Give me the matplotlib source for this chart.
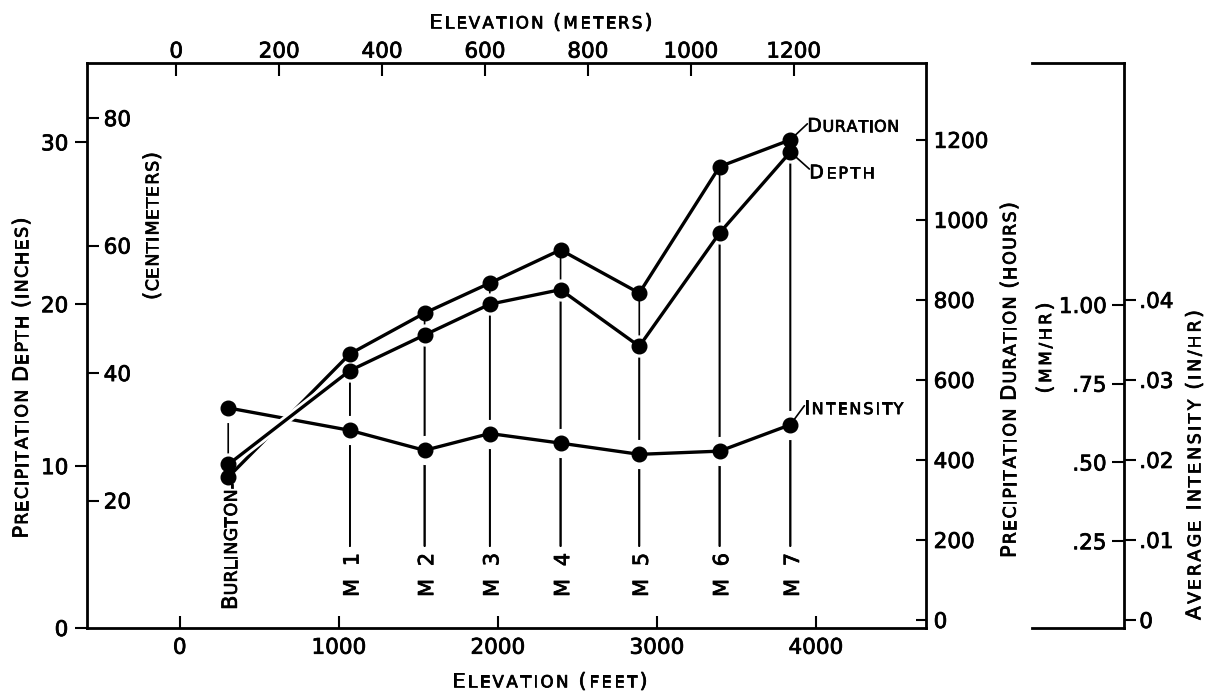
import matplotlib
matplotlib.use('Agg')
import matplotlib.pyplot as plt
from matplotlib.font_manager import FontProperties
from matplotlib.transforms import offset_copy, blended_transform_factory, Affine2D
import matplotlib.patheffects as pe

# ---------------- data ----------------
stations = ['Burlington-', 'M  1', 'M  2', 'M  3', 'M  4', 'M  5', 'M  6', 'M  7']
elevation_ft = [305, 1070, 1540, 1950, 2395, 2890, 3395, 3840]
depth_in = [10.1, 15.9, 18.1, 20.0, 20.9, 17.4, 24.4, 29.4]
duration_hr = [357, 665, 767, 842, 925, 817, 1133, 1200]
intensity_inhr = [0.0265, 0.0237, 0.0212, 0.0233, 0.0221, 0.0207, 0.0211, 0.0244]

feet_ticks = [0, 1000, 2000, 3000, 4000]
meter_ticks = [0, 200, 400, 600, 800, 1000, 1200]
inch_ticks = [0, 10, 20, 30]
cm_ticks = [20, 40, 60, 80]
hour_ticks = [0, 200, 400, 600, 800, 1000, 1200]
inhr_ticks = [0, 0.01, 0.02, 0.03, 0.04]
inhr_labels = ['0', '.01', '.02', '.03', '.04']
mmhr_ticks = [0.25, 0.50, 0.75, 1.00]
mmhr_labels = ['.25', '.50', '.75', '1.00']

# ---------------- figure setup ----------------
W, H, DPI = 1206, 691, 100
FONT = 'DejaVu Sans'
plt.rcParams['font.family'] = FONT
TICK_FS = 15.5
SPINE_LW = 2.0
TICK_LW = 1.5
HEAVY = [pe.withStroke(linewidth=0.55, foreground='k')]

fig = plt.figure(figsize=(W / DPI, H / DPI), dpi=DPI)
fig.patch.set_facecolor('white')


def fx(px):
    return px / W


def fy(py):
    return 1 - py / H


L, R, T, B = 87, 926, 63, 628
AXH = fy(T) - fy(B)

# main axes: elevation (ft) vs depth (in)
ax = fig.add_axes([fx(L), fy(B), fx(R) - fx(L), AXH])
ax.set_xlim(-583, 4693)
ax.set_ylim(0, 34.9)
ax.patch.set_alpha(0)
for s in ax.spines.values():
    s.set_linewidth(SPINE_LW)
ax.set_xticks(feet_ticks)
ax.set_yticks(inch_ticks)
ax.tick_params(axis='x', direction='in', length=8.5, width=TICK_LW, pad=7,
               labelsize=TICK_FS, top=False)
ax.tick_params(axis='y', direction='out', length=8.5, width=TICK_LW, pad=5,
               labelsize=TICK_FS, right=False)

# top: meters
ax_m = ax.twiny()
ax_m.set_xlim(-173.4, 1457.3)
ax_m.set_xticks(meter_ticks)
ax_m.tick_params(axis='x', direction='in', length=9, width=TICK_LW, pad=1,
                 labelsize=TICK_FS)
for s in ax_m.spines.values():
    s.set_visible(False)

# right: duration hours
ax_dur = ax.twinx()
ax_dur.set_ylim(-20, 1392)
ax_dur.set_yticks(hour_ticks)
ax_dur.tick_params(axis='y', direction='in', length=7.5, width=TICK_LW, pad=5.5,
                   labelsize=TICK_FS)
for s in ax_dur.spines.values():
    s.set_visible(False)

# inner-left: centimeters
ax_cm = fig.add_axes([fx(L) - 0.0005, fy(B), 0.0005, AXH])
ax_cm.set_ylim(0, 34.9 * 2.54)
ax_cm.patch.set_visible(False)
for s in ax_cm.spines.values():
    s.set_visible(False)
ax_cm.xaxis.set_visible(False)
ax_cm.yaxis.tick_right()
ax_cm.set_yticks(cm_ticks)
ax_cm.tick_params(axis='y', direction='out', length=8.5, width=TICK_LW, pad=3.5,
                  labelsize=TICK_FS)

# separate intensity scale
IL, IR = 1032, 1124
ax_int = fig.add_axes([fx(IL), fy(B), fx(IR) - fx(IL), AXH])
ax_int.set_ylim(-0.001, 0.0696)
ax_int.patch.set_visible(False)
ax_int.spines['left'].set_visible(False)
for k in ('top', 'bottom', 'right'):
    ax_int.spines[k].set_linewidth(SPINE_LW)
ax_int.set_xticks([])
ax_int.yaxis.tick_right()
ax_int.set_yticks(inhr_ticks)
ax_int.set_yticklabels(inhr_labels)
ax_int.tick_params(axis='y', direction='out', length=8.5, width=TICK_LW, pad=2.5,
                   labelsize=TICK_FS)

ax_mm = fig.add_axes([fx(IR), fy(B), 0.0005, AXH])
ax_mm.set_ylim(-0.001 * 25.4, 0.0696 * 25.4)
ax_mm.patch.set_visible(False)
for s in ax_mm.spines.values():
    s.set_visible(False)
ax_mm.xaxis.set_visible(False)
ax_mm.set_yticks(mmhr_ticks)
ax_mm.set_yticklabels(mmhr_labels)
ax_mm.tick_params(axis='y', direction='out', length=8.5, width=TICK_LW, pad=4,
                  labelsize=TICK_FS)

for a in (ax, ax_m, ax_dur, ax_cm, ax_int, ax_mm):
    for lab in a.get_xticklabels() + a.get_yticklabels():
        lab.set_path_effects(HEAVY)

# transforms for each series
T_depth = ax.transData
T_dur = ax_dur.transData
T_int = blended_transform_factory(ax.transData, ax_int.transData)
T_bot = blended_transform_factory(ax.transData, ax.transAxes)
T_px = Affine2D().scale(1.0 / W, -1.0 / H).translate(0, 1) + fig.transFigure

series = [(intensity_inhr, T_int), (duration_hr, T_dur), (depth_in, T_depth)]

# vertical station lines (down to the station labels)
line_bottom = [0.255] + [0.145] * (len(stations) - 1)
for vals, tf in series:
    for x, v, yb in zip(elevation_ft, vals, line_bottom):
        ax.annotate('', xy=(x, yb), xycoords=T_bot, xytext=(x, v), textcoords=tf,
                    arrowprops=dict(arrowstyle='-', lw=1.2, color='k',
                                    shrinkA=0, shrinkB=0),
                    zorder=1)

# white halos around dots (gaps in the thin lines)
ax.plot(elevation_ft, intensity_inhr, 'o', ms=20, color='white', mec='white',
        ls='none', transform=T_int, zorder=2)
ax.plot(elevation_ft, depth_in, 'o', ms=15, color='white', mec='white',
        ls='none', transform=T_depth, zorder=2)

LW = 2.4
ax.plot(elevation_ft, intensity_inhr, '-', color='k', lw=LW, transform=T_int,
        zorder=3, solid_capstyle='round', solid_joinstyle='round')
ax.plot(elevation_ft, duration_hr, '-', color='k', lw=LW, transform=T_dur,
        zorder=3.1, solid_capstyle='round', solid_joinstyle='round')
ax.plot(elevation_ft, depth_in, '-', color='k', lw=LW, transform=T_depth,
        zorder=3.2, solid_capstyle='round', solid_joinstyle='round',
        path_effects=[pe.Stroke(linewidth=LW + 4, foreground='white'), pe.Normal()])
for vals, tf in series:
    ax.plot(elevation_ft, vals, 'o', ms=10.5, color='k', ls='none', transform=tf,
            zorder=4)

# ---------------- small-caps lettering helper ----------------
renderer = fig.canvas.get_renderer()


def ink_width(ch, size):
    w, h, d = renderer.get_text_width_height_descent(
        ch, FontProperties(family=FONT, size=size), ismath=False)
    return w


def smallcaps(x, y, transform, text, big, small, length=None, rot=0, ha='center',
              dx=0.0, dy=0.0, space=5.0, gap=1.5):
    items = []
    maxsize = 0
    for ch in text:
        if ch == ' ':
            items.append((None, space, None))
            continue
        size = small if (ch.islower() or ch in '-/') else big
        c = ch.upper()
        items.append((c, ink_width(c, size), size))
        if c.isalnum():
            maxsize = max(maxsize, size)
    n = len(items)
    sum_w = sum(it[1] for it in items)
    if length is not None and n > 1:
        gap = max((length - sum_w) / (n - 1), 0.3)
    total = sum_w + gap * (n - 1)
    start = -total / 2 if ha == 'center' else 0.0
    cap = 0.729 * maxsize * DPI / 72.0
    pos = start
    for c, w, size in items:
        if c is not None:
            if rot == 0:
                ox, oy = dx + pos, dy - cap / 2
            else:
                ox, oy = dx + cap / 2, dy + pos
            fig.text(x, y, c, transform=offset_copy(transform, fig=fig, x=ox, y=oy,
                                                    units='dots'),
                     fontsize=size, family=FONT, rotation=rot,
                     rotation_mode='anchor', ha='left', va='baseline', color='k',
                     path_effects=HEAVY)
        pos += w + gap


# axis titles
smallcaps(541, 21, T_px, 'Elevation (meters)', 14.5, 12, length=223)
smallcaps(550, 680, T_px, 'Elevation (feet)', 14.5, 12, length=195)
smallcaps(20, 378, T_px, 'Precipitation Depth (inches)', 15, 12.5, length=321, rot=90)
smallcaps(152, 226, T_px, '(centimeters)', 15, 12.5, length=148, rot=90)
smallcaps(1008, 380, T_px, 'Precipitation Duration (hours)', 15, 12.5, length=356, rot=90)
smallcaps(1045, 348, T_px, '(mm/hr)', 14.5, 12, length=91, rot=90)
smallcaps(1193, 465, T_px, 'Average Intensity (in/hr)', 14.5, 12.5, length=310, rot=90)

# station labels
label_base = [0.032] + [0.055] * (len(stations) - 1)
label_len = [124] + [44] * (len(stations) - 1)
for name, x, yb, ln in zip(stations, elevation_ft, label_base, label_len):
    smallcaps(x, yb, T_bot, name, 15, 12.5, length=ln, rot=90, ha='left', dx=1)

# series labels with leaders at the last station
x7 = elevation_ft[-1]
leaders = [
    ('Duration', duration_hr[-1], T_dur, 17, 16, 17, 15, 92),
    ('Depth', depth_in[-1], T_depth, 19, -17, 19, -19.5, 65),
    ('Intensity', intensity_inhr[-1], T_int, 14, 19, 14, 17.5, 99),
]
for name, v, tf, lx, ly, tx, ty, ln in leaders:
    ax.annotate('', xy=(x7, v), xycoords=tf, xytext=(lx, ly), textcoords='offset pixels',
                arrowprops=dict(arrowstyle='-', lw=1.2, color='k', shrinkA=0, shrinkB=4),
                zorder=4)
    smallcaps(x7, v, tf, name, 13.5, 11.5, length=ln, ha='left', dx=tx, dy=ty)

fig.savefig('out.png', dpi=DPI, facecolor='white')
